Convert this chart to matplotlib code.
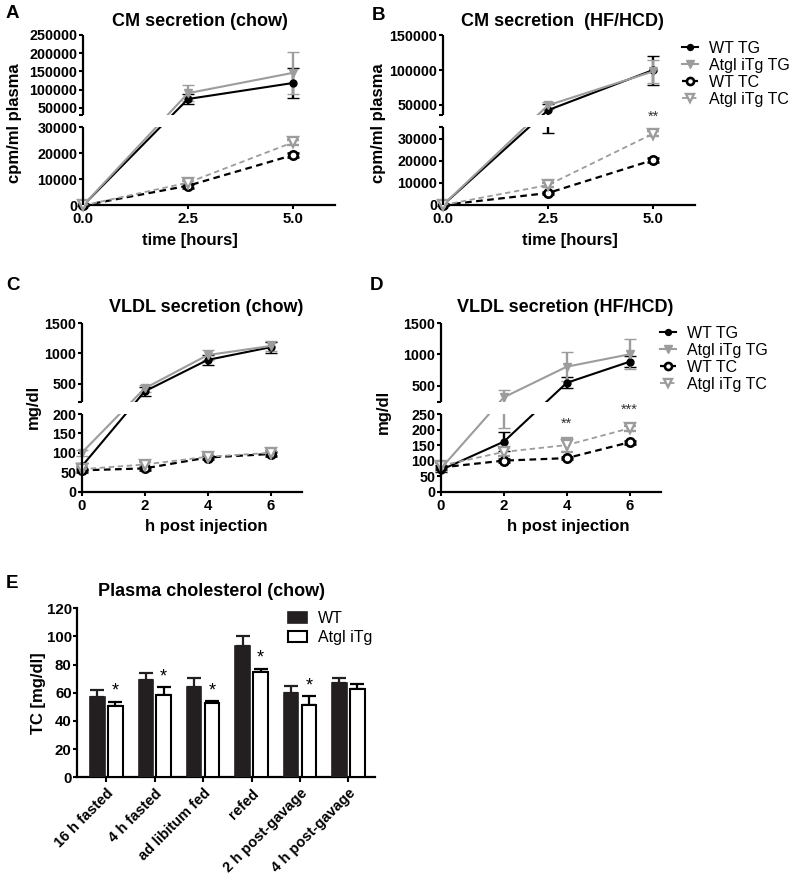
import numpy as np
import matplotlib
matplotlib.use('Agg')
import matplotlib.pyplot as plt
from matplotlib.ticker import FixedLocator, FixedFormatter
from matplotlib.patches import Rectangle
from matplotlib.lines import Line2D

plt.rcParams['font.family'] = ['Liberation Sans', 'DejaVu Sans']
plt.rcParams['font.weight'] = 'bold'
plt.rcParams['axes.linewidth'] = 1.5

# ---------------- data ----------------
series_labels = ['WT TG', 'Atgl iTg TG', 'WT TC', 'Atgl iTg TC']

# A: CM secretion (chow)
time_A = [0.0, 2.5, 5.0]
wt_tg_A = [0, 74000, 118000]
wt_tg_A_err = [0, 14000, 40000]
atgl_tg_A = [0, 90000, 146000]
atgl_tg_A_err = [0, 22000, 57000]
wt_tc_A = [0, 7600, 19400]
wt_tc_A_err = [0, 700, 800]
atgl_tc_A = [0, 8800, 24300]
atgl_tc_A_err = [0, 800, 900]

# B: CM secretion (HF/HCD)
time_B = [0.0, 2.5, 5.0]
wt_tg_B = [0, 42000, 100000]
wt_tg_B_err = [0, 9600, 21000]
atgl_tg_B = [0, 49000, 98000]
atgl_tg_B_err = [0, 5000, 16000]
wt_tc_B = [0, 5400, 20300]
wt_tc_B_err = [0, 600, 700]
atgl_tc_B = [0, 9000, 32200]
atgl_tc_B_err = [0, 1000, 1000]

# C: VLDL secretion (chow)
time_C = [0, 2, 4, 6]
wt_tg_C = [65, 370, 890, 1100]
wt_tg_C_err = [8, 70, 80, 90]
atgl_tg_C = [100, 420, 970, 1120]
atgl_tg_C_err = [8, 60, 80, 90]
wt_tc_C = [55, 60, 88, 97]
wt_tc_C_err = [4, 4, 4, 4]
atgl_tc_C = [58, 70, 90, 100]
atgl_tc_C_err = [5, 6, 4, 4]

# D: VLDL secretion (HF/HCD)
time_D = [0, 2, 4, 6]
wt_tg_D = [70, 161, 550, 885]
wt_tg_D_err = [8, 30, 87, 90]
atgl_tg_D = [75, 320, 806, 1003]
atgl_tg_D_err = [10, 116, 228, 238]
wt_tc_D = [78, 100, 108, 159]
wt_tc_D_err = [5, 5, 4, 5]
atgl_tc_D = [84, 128, 150, 204]
atgl_tc_D_err = [8, 12, 22, 8]

# E: Plasma cholesterol (chow)
categories_E = ['16 h fasted', '4 h fasted', 'ad libitum fed', 'refed',
                '2 h post-gavage', '4 h post-gavage']
wt_E = [57.3, 69.1, 63.9, 93.3, 60.1, 67.2]
wt_E_err = [4.7, 4.7, 6.4, 7.3, 5.0, 3.3]
atgl_E = [50.9, 58.2, 52.5, 74.6, 51.4, 62.7]
atgl_E_err = [2.8, 5.9, 1.5, 2.6, 6.1, 3.6]
stars_E = ['*', '*', '*', '*', '*', '']

# ---------------- figure ----------------
W, H = 800, 880
fig = plt.figure(figsize=(8, 8.8), dpi=100)
GRAY = '#9c9c9c'

STYLES = [
    dict(color='black', ls='-', marker='o', mfc='black', mec='black', ms=5, mew=1.0, lw=1.5),
    dict(color=GRAY, ls='-', marker='v', mfc=GRAY, mec=GRAY, ms=6, mew=1.0, lw=1.5),
    dict(color='black', ls=(0, (3, 2)), marker='o', mfc='white', mec='black', ms=6, mew=1.9, lw=1.6),
    dict(color=GRAY, ls=(0, (3, 2)), marker='v', mfc='white', mec=GRAY, ms=7.5, mew=1.7, lw=1.3),
]


def make_scale(lo_top, up_top, h_low, gap, h_up):
    eps = up_top * 1e-7
    xp = np.array([0.0, lo_top, lo_top + eps, up_top])
    fp = np.array([0.0, h_low, h_low + gap, h_low + gap + h_up])

    def ext(v, a, b):
        v = np.asarray(v, dtype=float)
        out = np.interp(v, a, b)
        s0 = (b[1] - b[0]) / (a[1] - a[0])
        s1 = (b[-1] - b[-2]) / (a[-1] - a[-2])
        out = np.where(v < a[0], b[0] + (v - a[0]) * s0, out)
        out = np.where(v > a[-1], b[-1] + (v - a[-1]) * s1, out)
        return out

    return (lambda v: ext(v, xp, fp)), (lambda v: ext(v, fp, xp)), eps


def line_panel(geom, seg, xs, xlim, xticks, xfmt, lo_ticks, up_ticks, ys, es):
    left, right, top, lowtop, upbot, bottom = geom
    seg_lo, seg_up = seg
    h_low = bottom - lowtop
    gap = lowtop - upbot
    h_up = upbot - top
    fwd, inv, eps = make_scale(seg_lo, seg_up, h_low, gap, h_up)
    ax = fig.add_axes([left / W, 1 - bottom / H, (right - left) / W, (bottom - top) / H])
    ax.set_yscale('function', functions=(fwd, inv))
    ax.set_xlim(*xlim)
    ax.set_ylim(0, seg_up)
    for s in ['top', 'right', 'left']:
        ax.spines[s].set_visible(False)
    ax.spines['bottom'].set_linewidth(1.6)

    for y, e, st in zip(ys, es, STYLES):
        c = ax.errorbar(xs, y, yerr=e, color=st['color'], ls=st['ls'], lw=st['lw'],
                        marker=st['marker'], mfc=st['mfc'], mec=st['mec'], ms=st['ms'],
                        mew=st['mew'], ecolor=st['color'], elinewidth=1.7, capsize=4,
                        capthick=1.7, zorder=3)
        c[0].set_clip_on(False)
        for a in c[1]:
            a.set_clip_on(False)
        for a in c[2]:
            a.set_clip_on(False)

    # hide the break gap
    ax.add_patch(Rectangle((0.006, h_low / (bottom - top)), 1.1, gap / (bottom - top),
                           transform=ax.transAxes, fc='white', ec='none', zorder=4, clip_on=False))
    # broken y spine
    yt = ax.get_yaxis_transform()
    ax.plot([0, 0], [0, seg_lo], transform=yt, color='black', lw=1.6, clip_on=False, zorder=6,
            solid_capstyle='butt')
    ax.plot([0, 0], [seg_lo + eps, seg_up], transform=yt, color='black', lw=1.6, clip_on=False,
            zorder=6, solid_capstyle='butt')

    tick_vals = list(lo_ticks)
    tick_labs = [str(t) for t in lo_ticks]
    if lo_ticks[-1] != seg_lo:
        tick_vals.append(seg_lo)
        tick_labs.append('')
    tick_vals.append(seg_lo + eps)
    tick_labs.append('')
    tick_vals += list(up_ticks)
    tick_labs += [str(t) for t in up_ticks]
    ax.yaxis.set_major_locator(FixedLocator(tick_vals))
    ax.yaxis.set_major_formatter(FixedFormatter(tick_labs))
    ax.xaxis.set_major_locator(FixedLocator(xticks))
    ax.xaxis.set_major_formatter(FixedFormatter([xfmt(t) for t in xticks]))
    ax.yaxis.set_minor_locator(FixedLocator([]))
    ax.tick_params(axis='y', direction='out', length=3, width=1.5, labelsize=10.3, pad=1)
    ax.tick_params(axis='x', direction='out', length=3, width=1.5, labelsize=10.8, pad=2)
    return ax


def legend_handles():
    hs = []
    for st, lab in zip(STYLES, series_labels):
        hs.append(Line2D([], [], color=st['color'], ls=st['ls'], lw=st['lw'], marker=st['marker'],
                         mfc=st['mfc'], mec=st['mec'], ms=st['ms'] * 0.85, mew=st['mew'], label=lab))
    return hs


def add_legend(x_px, ytop_px):
    fig.legend(handles=legend_handles(), loc='upper left',
               bbox_to_anchor=(x_px / W, 1 - ytop_px / H), frameon=False,
               prop={'weight': 'normal', 'size': 11.5}, handlelength=1.0, handletextpad=0.7,
               labelspacing=0.12, borderpad=0, borderaxespad=0)


fmt1 = lambda t: '%.1f' % t
fmt0 = lambda t: '%d' % t

# Panel A
axA = line_panel((83, 335, 35, 127.5, 115, 205.5), (30000, 250000), time_A, (0, 6),
                 [0, 2.5, 5.0], fmt1, [0, 10000, 20000, 30000],
                 [50000, 100000, 150000, 200000, 250000],
                 [wt_tg_A, atgl_tg_A, wt_tc_A, atgl_tc_A],
                 [wt_tg_A_err, atgl_tg_A_err, wt_tc_A_err, atgl_tc_A_err])
# Panel B
axB = line_panel((443, 695, 35.5, 127.5, 115, 205), (35000, 150000), time_B, (0, 6),
                 [0, 2.5, 5.0], fmt1, [0, 10000, 20000, 30000],
                 [50000, 100000, 150000],
                 [wt_tg_B, atgl_tg_B, wt_tc_B, atgl_tc_B],
                 [wt_tg_B_err, atgl_tg_B_err, wt_tc_B_err, atgl_tc_B_err])
axB.annotate('**', xy=(5.0, atgl_tc_B[2]), xytext=(0, 12), textcoords='offset points',
             ha='center', va='center', fontsize=10.5, fontweight='normal', color='#333333', zorder=7)
# Panel C
axC = line_panel((81.7, 302, 323, 414, 401.7, 491.7), (200, 1500), time_C, (0, 7),
                 [0, 2, 4, 6], fmt0, [0, 50, 100, 150, 200], [500, 1000, 1500],
                 [wt_tg_C, atgl_tg_C, wt_tc_C, atgl_tc_C],
                 [wt_tg_C_err, atgl_tg_C_err, wt_tc_C_err, atgl_tc_C_err])
# Panel D
axD = line_panel((441, 661, 323, 414, 401.7, 491.7), (250, 1500), time_D, (0, 7),
                 [0, 2, 4, 6], fmt0, [0, 50, 100, 150, 200, 250], [500, 1000, 1500],
                 [wt_tg_D, atgl_tg_D, wt_tc_D, atgl_tc_D],
                 [wt_tg_D_err, atgl_tg_D_err, wt_tc_D_err, atgl_tc_D_err])
axD.annotate('**', xy=(4, atgl_tc_D[2]), xytext=(0, 15), textcoords='offset points',
             ha='center', va='center', fontsize=10.5, fontweight='normal', color='#333333', zorder=7)
axD.annotate('***', xy=(6, atgl_tc_D[3]), xytext=(0, 13), textcoords='offset points',
             ha='center', va='center', fontsize=10.5, fontweight='normal', color='#333333', zorder=7)

add_legend(682, 41)
add_legend(660, 326)

# titles, letters, labels
def ftext(x, y, s, **kw):
    fig.text(x / W, 1 - y / H, s, **kw)

ftext(200, 21.5, 'CM secretion (chow)', ha='center', va='center', fontsize=13)
ftext(562, 21.5, 'CM secretion  (HF/HCD)', ha='center', va='center', fontsize=13)
ftext(206, 308, 'VLDL secretion (chow)', ha='center', va='center', fontsize=13)
ftext(565, 307, 'VLDL secretion (HF/HCD)', ha='center', va='center', fontsize=13)
for letter, x, y in [('A', 6, 14), ('B', 372, 15), ('C', 6, 285), ('D', 370, 285), ('E', 6, 583)]:
    ftext(x, y, letter, ha='left', va='center', fontsize=13.5)

ftext(15, 123, 'cpm/ml plasma', ha='center', va='center', rotation=90, fontsize=12)
ftext(378, 123, 'cpm/ml plasma', ha='center', va='center', rotation=90, fontsize=12)
ftext(33, 407, 'mg/dl', ha='center', va='center', rotation=90, fontsize=12)
ftext(383, 412, 'mg/dl', ha='center', va='center', rotation=90, fontsize=12)
ftext(190, 240, 'time [hours]', ha='center', va='center', fontsize=12)
ftext(570, 240, 'time [hours]', ha='center', va='center', fontsize=12)
ftext(206, 527, 'h post injection', ha='center', va='center', fontsize=12)
ftext(568, 527, 'h post injection', ha='center', va='center', fontsize=12)

# Panel E
axE = fig.add_axes([77.3 / W, 1 - 777.3 / H, (375 - 77.3) / W, (777.3 - 608.3) / H])
pos = np.arange(len(categories_E))
off, bw = 0.185, 0.3
DARK = '#231f20'
axE.errorbar(pos - off, wt_E, yerr=[np.zeros(len(wt_E)), wt_E_err], fmt='none', ecolor=DARK,
             elinewidth=1.6, capsize=5, capthick=1.6, zorder=2)
axE.errorbar(pos + off, atgl_E, yerr=[np.zeros(len(atgl_E)), atgl_E_err], fmt='none',
             ecolor='black', elinewidth=1.6, capsize=5, capthick=1.6, zorder=2)
axE.bar(pos - off, wt_E, bw, color=DARK, edgecolor=DARK, lw=1.2, zorder=3, label='WT')
axE.bar(pos + off, atgl_E, bw, color='white', edgecolor='black', lw=1.5, zorder=3, label='Atgl iTg')
for i, s in enumerate(stars_E):
    if s:
        axE.annotate(s, xy=(pos[i] + off, atgl_E[i] + atgl_E_err[i]), xytext=(0, 7.5),
                     textcoords='offset points', ha='center', va='center', fontsize=13,
                     fontweight='normal', color='black')
axE.set_xlim(-0.6, 5.55)
axE.set_ylim(0, 120)
axE.set_yticks(np.arange(0, 121, 20))
axE.set_xticks(pos)
axE.set_xticklabels(categories_E, rotation=45, ha='right', rotation_mode='anchor')
for s in ['top', 'right']:
    axE.spines[s].set_visible(False)
axE.spines['left'].set_linewidth(1.6)
axE.spines['bottom'].set_linewidth(1.6)
axE.tick_params(axis='y', direction='out', length=3, width=1.5, labelsize=10.8, pad=1)
axE.tick_params(axis='x', direction='out', length=3.5, width=1.5, labelsize=10.5, pad=3)
axE.legend(loc='upper left', bbox_to_anchor=(288 / W, 1 - 611 / H), bbox_transform=fig.transFigure,
           frameon=False, prop={'weight': 'normal', 'size': 11.5}, handlelength=1.2,
           handleheight=0.75, handletextpad=0.7, labelspacing=0.25, borderpad=0, borderaxespad=0)
ftext(211, 592, 'Plasma cholesterol (chow)', ha='center', va='center', fontsize=13)
ftext(39, 693, 'TC [mg/dl]', ha='center', va='center', rotation=90, fontsize=12)

fig.savefig('out.png', dpi=100)
